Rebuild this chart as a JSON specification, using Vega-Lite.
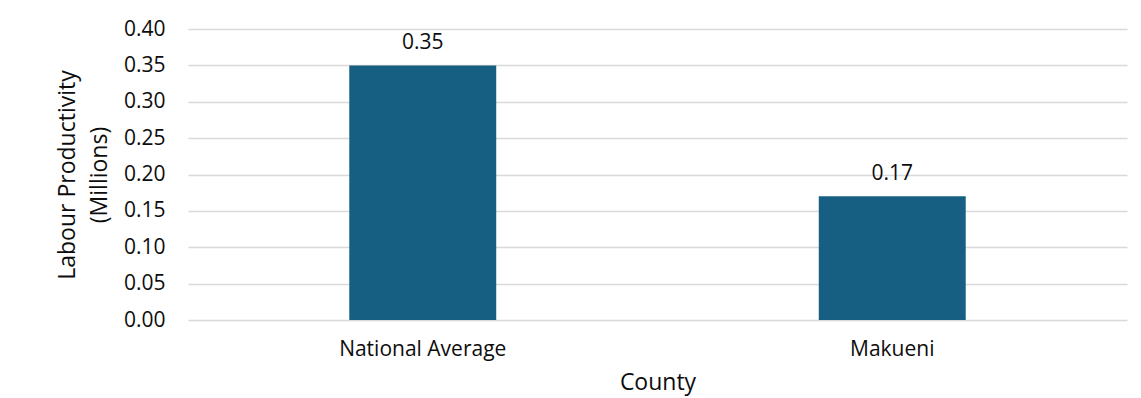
{
  "$schema": "https://vega.github.io/schema/vega-lite/v6.json",
  "autosize": "none",
  "width": 939,
  "height": 291,
  "padding": {"left": 188, "top": 29, "right": 14, "bottom": 78},
  "background": "#ffffff",
  "config": {
    "view": {"stroke": null},
    "font": "Open Sans",
    "axis": {
      "labelFont": "Open Sans",
      "titleFont": "Open Sans",
      "labelColor": "#0d0d0d",
      "titleColor": "#0d0d0d",
      "titleFontWeight": "normal",
      "ticks": false,
      "domain": false,
      "gridColor": "#d9d9d9",
      "gridWidth": 1.5
    }
  },
  "data": {
    "values": [
      {"County": "National Average", "Productivity": 0.35},
      {"County": "Makueni", "Productivity": 0.17}
    ]
  },
  "encoding": {
    "x": {
      "field": "County",
      "type": "nominal",
      "sort": null,
      "scale": {"paddingInner": 0.687, "paddingOuter": 0.3435},
      "axis": {
        "title": "County",
        "labelAngle": 0,
        "labelFontSize": 21,
        "labelPadding": 18,
        "titleFontSize": 23,
        "titlePadding": 12,
        "grid": false
      }
    },
    "y": {
      "field": "Productivity",
      "type": "quantitative",
      "scale": {"domain": [0, 0.4]},
      "axis": {
        "title": ["Labour Productivity", "(Millions)"],
        "values": [0, 0.05, 0.1, 0.15, 0.2, 0.25, 0.3, 0.35, 0.4],
        "format": ".2f",
        "labelFontSize": 21,
        "labelPadding": 23,
        "titleFontSize": 23,
        "titlePadding": 12,
        "titleLineHeight": 32,
        "grid": true
      }
    }
  },
  "layer": [
    {"mark": {"type": "bar", "color": "#175f82"}},
    {
      "mark": {"type": "text", "fontSize": 21, "color": "#0d0d0d", "baseline": "alphabetic", "dy": -16},
      "encoding": {"text": {"field": "Productivity", "type": "quantitative", "format": ".2f"}}
    }
  ]
}
